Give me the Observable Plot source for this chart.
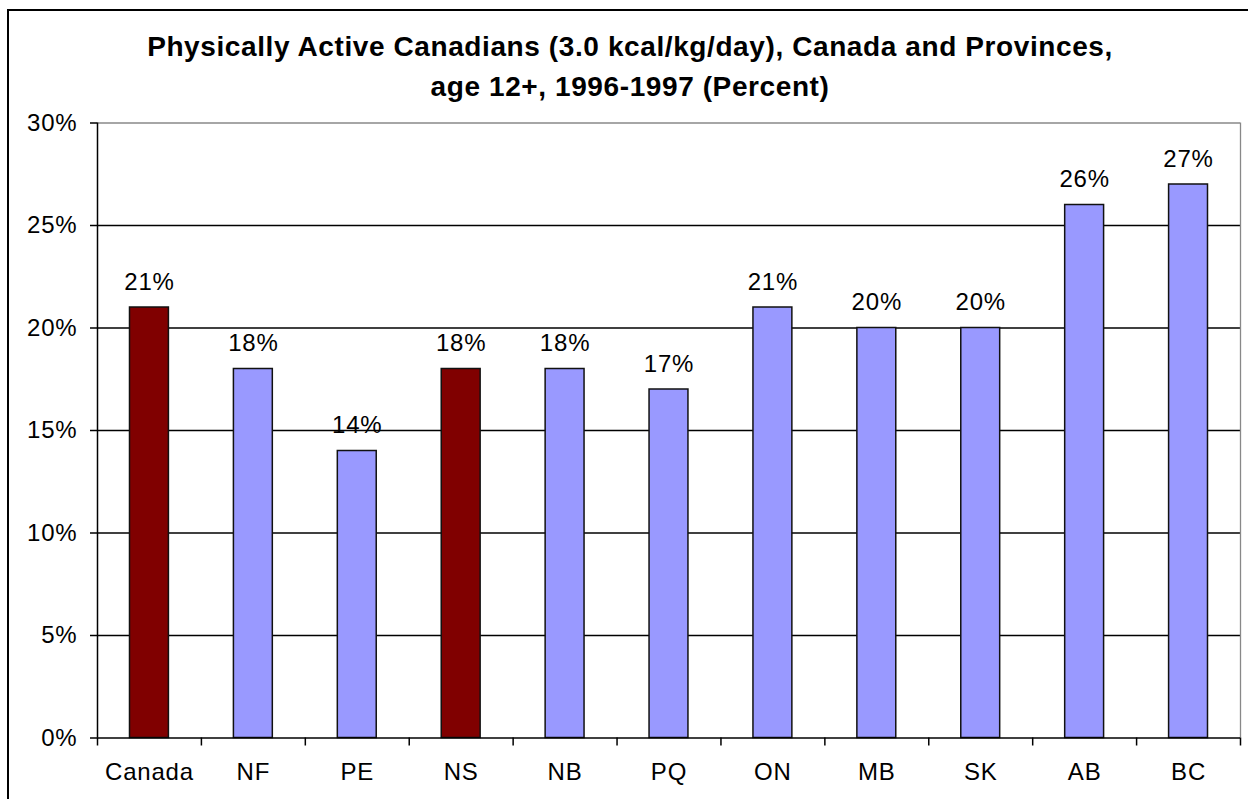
<!DOCTYPE html>
<html>
<head>
<meta charset="utf-8">
<script src="https://cdn.jsdelivr.net/npm/d3@7"></script>
<script src="https://cdn.jsdelivr.net/npm/@observablehq/plot@0.6"></script>
<style>
  html, body { margin: 0; padding: 0; background: #fff; overflow: hidden; }
  #wrap { position: relative; width: 1248px; height: 799px; font-family: "Liberation Sans", Arial, sans-serif; }
  #border { position: absolute; left: 7px; top: 9px; width: 1400px; height: 1000px; border: 2px solid #000; box-sizing: border-box; pointer-events: none; }
  #title { height: 105px; box-sizing: border-box; padding-top: 27px; padding-left: 12px; text-align: center; font-weight: bold; font-size: 28px; line-height: 40px; letter-spacing: 0.6px; color: #000; }
  #chart svg { display: block; }
  #chart svg text { letter-spacing: 0.8px; }
</style>
</head>
<body>
<div id="wrap">
  <div id="border"></div>
  <div id="title">Physically Active Canadians (3.0 kcal/kg/day), Canada and Provinces,<br>age 12+, 1996-1997 (Percent)</div>
  <div id="chart"></div>
</div>
<script>
const categories = ["Canada", "NF", "PE", "NS", "NB", "PQ", "ON", "MB", "SK", "AB", "BC"];
const values = [21, 18, 14, 18, 18, 17, 21, 20, 20, 26, 27];
const highlighted = ["Canada", "NS"];
const yTicks = [0, 5, 10, 15, 20, 25, 30];
const innerGrid = [5, 10, 15, 20, 25];

const data = categories.map((c, i) => ({ cat: c, i, value: values[i], hl: highlighted.includes(c) }));
const centers = categories.map((c, i) => i + 0.5);
const boundaries = d3.range(0, categories.length + 1);

const plot = Plot.plot({
  width: 1248,
  height: 694,
  marginLeft: 97,
  marginRight: 8,
  marginTop: 17.5,
  marginBottom: 61.5,
  style: { fontFamily: "'Liberation Sans', Arial, sans-serif", fontSize: "24px", color: "#000", background: "transparent" },
  x: { type: "linear", domain: [0, categories.length] },
  y: { domain: [0, 30] },
  marks: [
    Plot.ruleY(innerGrid, { stroke: "#000", strokeWidth: 1.3 }),
    Plot.ruleY([30], { stroke: "#888", strokeWidth: 1.3 }),
    Plot.ruleX([categories.length], { stroke: "#888", strokeWidth: 1.3 }),
    Plot.rectY(data, {
      x1: "i",
      x2: d => d.i + 1,
      y: "value",
      insetLeft: 32.5,
      insetRight: 32.5,
      fill: d => d.hl ? "#800000" : "#9999FF",
      stroke: "#111",
      strokeWidth: 1.5
    }),
    Plot.text(data, {
      x: d => d.i + 0.5,
      y: "value",
      text: d => d.value + "%",
      lineAnchor: "bottom",
      dy: -18,
      fontSize: 24,
      fill: "#000"
    }),
    Plot.ruleX([0], { stroke: "#000", strokeWidth: 1.5 }),
    Plot.ruleY([0], { stroke: "#000", strokeWidth: 1.5 }),
    Plot.axisY({
      ticks: yTicks,
      tickFormat: d => d + "%",
      tickSize: 7,
      tickPadding: 13,
      fontSize: 24,
      label: null,
      stroke: "#000",
      strokeWidth: 1.5,
      strokeOpacity: 1
    }),
    Plot.axisX({
      ticks: boundaries,
      tickFormat: () => "",
      tickSize: 8,
      label: null,
      stroke: "#000",
      strokeWidth: 1.5,
      strokeOpacity: 1
    }),
    Plot.axisX({
      ticks: centers,
      tickFormat: d => categories[Math.round(d - 0.5)],
      tickSize: 0,
      tickPadding: 25,
      fontSize: 24,
      label: null
    })
  ]
});
document.getElementById("chart").appendChild(plot);
</script>
</body>
</html>
